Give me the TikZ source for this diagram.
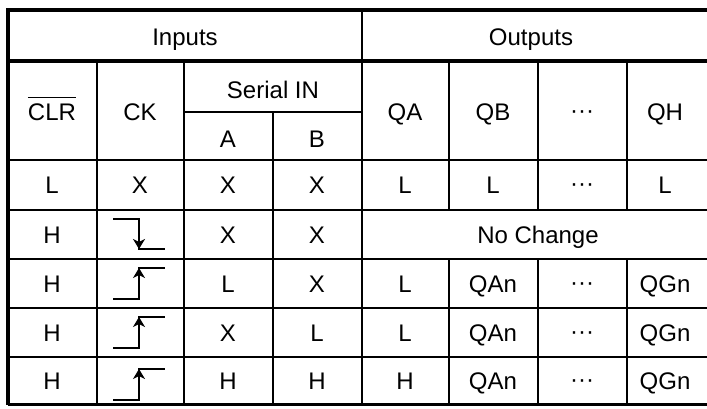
\documentclass[tikz,border=0pt]{standalone}
\usepackage{fontspec}
\setmainfont{Liberation Sans}
\usetikzlibrary{arrows.meta}
\tikzset{
  border/.style={line width=4pt, line join=miter},
  rule/.style={line width=2.2pt},
  cell/.style={anchor=base, inner sep=0pt, font=\fontsize{24}{28}\selectfont},
  clk/.style={line width=2.2pt},
  clkarrow/.style={line width=2.2pt, -{Stealth[length=10pt,width=12pt,inset=3pt]}},
}
\newcommand{\mdots}{\raisebox{2pt}{\textperiodcentered\textperiodcentered\textperiodcentered}}
\begin{document}
\begin{tikzpicture}[x=1pt,y=-1pt]
\useasboundingbox (0,0) rectangle (707,408);
\clip (0,0) rectangle (707,408);
% frame
\draw[border] (712,10) -- (8,10) -- (8,405);
\draw[rule] (8,404.5) -- (712,404.5);
\draw[border] (8,61) -- (712,61);
% rows
\draw[rule] (184,112) -- (362,112);
\draw[rule] (8,160) -- (712,160);
\draw[rule] (8,210) -- (712,210);
\draw[rule] (8,259) -- (712,259);
\draw[rule] (8,308) -- (712,308);
\draw[rule] (8,357) -- (712,357);
% columns
\draw[rule] (97,61) -- (97,405);
\draw[rule] (184,61) -- (184,405);
\draw[rule] (273,112) -- (273,405);
\draw[rule] (362,10) -- (362,405);
\draw[rule] (449,61) -- (449,210);
\draw[rule] (538,61) -- (538,210);
\draw[rule] (627,61) -- (627,210);
\draw[rule] (449,259) -- (449,405);
\draw[rule] (538,259) -- (538,405);
\draw[rule] (627,259) -- (627,405);

% header
\node[cell] (inputs) at (185,45.5) {Inputs};
\node[cell] (outputs) at (531,45.5) {Outputs};
\node[cell] (clr) at (52,120) {CLR};
\draw[line width=1.8pt] ([yshift=5.5pt]clr.north west) -- ([yshift=5.5pt]clr.north east);
\node[cell] (ck) at (140,120) {CK};
\node[cell] (serial) at (273,98) {Serial IN};
\node[cell] (sa) at (228,147) {A};
\node[cell] (sb) at (317,147) {B};
\node[cell] (qa) at (405,120) {QA};
\node[cell] (qb) at (493,120) {QB};
\node[cell] (qdots) at (582,120) {\mdots};
\node[cell] (qh) at (665,120) {QH};

% row 1
\node[cell] (r1clr) at (52,193.5) {L};
\node[cell] (r1ck) at (140,193.5) {X};
\node[cell] (r1a) at (228,193.5) {X};
\node[cell] (r1b) at (317,193.5) {X};
\node[cell] (r1qa) at (405,193.5) {L};
\node[cell] (r1qb) at (493,193.5) {L};
\node[cell] (r1dots) at (582,193.5) {\mdots};
\node[cell] (r1qh) at (665,193.5) {L};

% row 2
\node[cell] (r2clr) at (52,243) {H};
\draw[clk] (113,219) -- (139,219) -- (139,249) -- (165,249);
\draw[clkarrow] (139,219) -- (139,249);
\node[cell] (r2a) at (228,243) {X};
\node[cell] (r2b) at (317,243) {X};
\node[cell] (r2q) at (538,243) {No Change};

% row 3
\node[cell] (r3clr) at (52,292) {H};
\draw[clk] (113,299) -- (139,299) -- (139,268) -- (165,268);
\draw[clkarrow] (139,299) -- (139,268);
\node[cell] (r3a) at (228,292) {L};
\node[cell] (r3b) at (317,292) {X};
\node[cell] (r3qa) at (405,292) {L};
\node[cell] (r3qb) at (493,292) {QAn};
\node[cell] (r3dots) at (582,292) {\mdots};
\node[cell] (r3qh) at (665,292) {QGn};

% row 4
\node[cell] (r4clr) at (52,341) {H};
\draw[clk] (113,348) -- (139,348) -- (139,317) -- (165,317);
\draw[clkarrow] (139,348) -- (139,317);
\node[cell] (r4a) at (228,341) {X};
\node[cell] (r4b) at (317,341) {L};
\node[cell] (r4qa) at (405,341) {L};
\node[cell] (r4qb) at (493,341) {QAn};
\node[cell] (r4dots) at (582,341) {\mdots};
\node[cell] (r4qh) at (665,341) {QGn};

% row 5
\node[cell] (r5clr) at (52,389.5) {H};
\draw[clk] (113,400) -- (139,400) -- (139,369) -- (165,369);
\draw[clkarrow] (139,400) -- (139,369);
\node[cell] (r5a) at (228,389.5) {H};
\node[cell] (r5b) at (317,389.5) {H};
\node[cell] (r5qa) at (405,389.5) {H};
\node[cell] (r5qb) at (493,389.5) {QAn};
\node[cell] (r5dots) at (582,389.5) {\mdots};
\node[cell] (r5qh) at (665,389.5) {QGn};

\end{tikzpicture}
\end{document}
